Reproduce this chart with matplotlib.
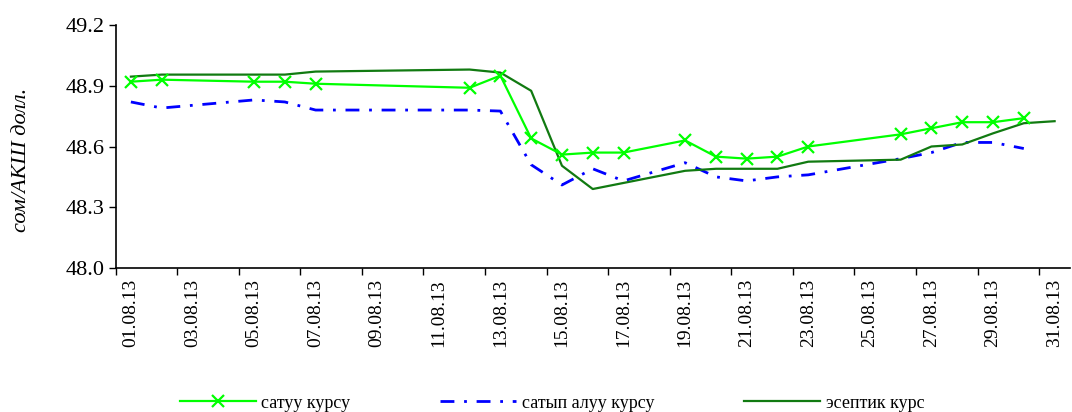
import matplotlib
matplotlib.use("Agg")
import matplotlib.pyplot as plt
from matplotlib.ticker import FixedLocator

plt.rcParams['font.family'] = ['Liberation Serif', 'DejaVu Serif']

# day of August 2013
days = [1, 2, 5, 6, 7, 12, 13, 14, 15, 16, 17, 19, 20, 21, 22, 23, 26, 27, 28, 29, 30]
days_official = days + [31]

sell_rate = [48.92, 48.93, 48.92, 48.92, 48.91, 48.89, 48.95, 48.64, 48.56, 48.57, 48.57,
             48.63, 48.55, 48.54, 48.55, 48.60, 48.66, 48.69, 48.72, 48.72, 48.74]
buy_rate = [48.82, 48.79, 48.83, 48.82, 48.78, 48.78, 48.775, 48.51, 48.41, 48.49, 48.43,
            48.52, 48.45, 48.43, 48.45, 48.46, 48.54, 48.57, 48.62, 48.62, 48.59]
official_rate = [48.945, 48.955, 48.955, 48.955, 48.97, 48.98, 48.965, 48.875, 48.505, 48.39, 48.42,
                 48.48, 48.49, 48.49, 48.49, 48.525, 48.535, 48.60, 48.61, 48.665, 48.715, 48.725]

tick_days = list(range(1, 32, 2))
tick_labels = [f"{d:02d}.08.13" for d in tick_days]
y_ticks = [48.0, 48.3, 48.6, 48.9, 49.2]

series_names = ["сатуу курсу", "сатып алуу курсу", "эсептик курс"]

fig = plt.figure(figsize=(10.72, 4.12), dpi=100)
ax = fig.add_axes([115.5 / 1072, 144 / 412, (1070 - 115.5) / 1072, (268 - 25) / 412])

ax.plot(days, sell_rate, color='#00ff00', lw=1.6, marker='x', ms=8, mew=1.6,
        label=series_names[0], zorder=4)
ax.plot(days, buy_rate, color='#0000ff', lw=2.0, dashes=(5, 3.5, 1, 3.5),
        label=series_names[1], zorder=3)
ax.plot(days_official, official_rate, color='#117a11', lw=1.6,
        label=series_names[2], zorder=3)

ax.set_xlim(0.5, 31.5)
ax.set_ylim(48.0, 49.2)

# ticks sit on day boundaries, labels in the middle of the day
ax.xaxis.set_major_locator(FixedLocator([d - 0.5 for d in tick_days]))
ax.xaxis.set_minor_locator(FixedLocator(tick_days))
ax.set_xticklabels([])
ax.set_xticklabels(tick_labels, minor=True, rotation=90, fontsize=14)
ax.tick_params(axis='x', which='major', direction='out', length=5, width=1)
ax.tick_params(axis='x', which='minor', length=0, pad=8)

ax.set_yticks(y_ticks)
ax.set_yticklabels([f"{v:.1f}" for v in y_ticks], fontsize=16)
ax.tick_params(axis='y', direction='out', length=5, width=1, pad=3)

for side in ['top', 'right']:
    ax.spines[side].set_visible(False)
for side in ['left', 'bottom']:
    ax.spines[side].set_linewidth(1.2)

fig.text(22 / 1072, 1 - 160 / 412, "сом/АКШ долл.", rotation=90, style='italic',
         fontsize=16, ha='center', va='center')

fig.legend(loc='center', bbox_to_anchor=(552 / 1072, 1 - 403 / 412), ncol=3,
           frameon=False, fontsize=13, handlelength=4.2, columnspacing=5.0,
           handletextpad=0.3, borderaxespad=0)

fig.savefig("out.png", dpi=100)
